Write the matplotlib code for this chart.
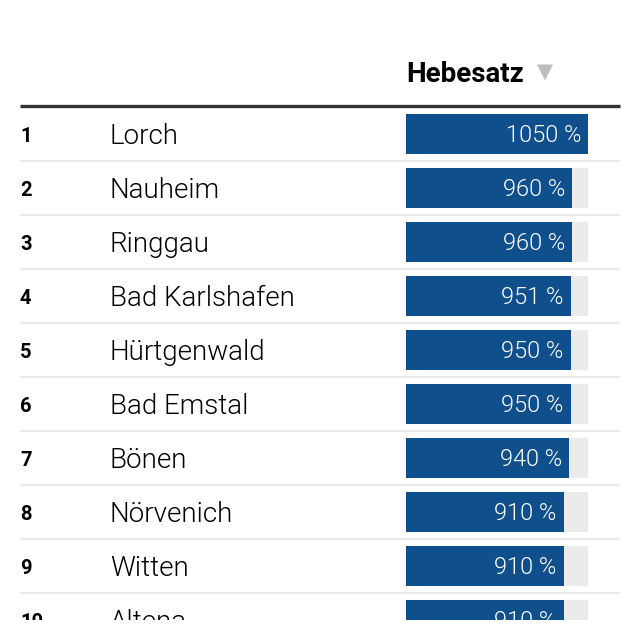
import matplotlib
matplotlib.use("Agg")
import matplotlib.pyplot as plt
from matplotlib.patches import Rectangle

# table data
ranks = [1, 2, 3, 4, 5, 6, 7, 8, 9, 10]
names = ["Lorch", "Nauheim", "Ringgau", "Bad Karlshafen", "Hürtgenwald",
         "Bad Emstal", "Bönen", "Nörvenich", "Witten", "Altena"]
hebesatz = [1050, 960, 960, 951, 950, 950, 940, 910, 910, 910]
header = "Hebesatz"

BLUE = "#0f4f8b"
TRACK = "#ebebeb"
SEP = "#e9e9e9"
FONT = "Roboto"

fig = plt.figure(figsize=(6.4, 6.4), dpi=100)
# layout axes in pixel units, visible part stops at y=620
ax = fig.add_axes([0, 20 / 640, 1, 620 / 640])
ax.set_xlim(0, 640)
ax.set_ylim(620, 0)
ax.axis("off")

row_h = 54
first_row = 134
bar_x0, bar_x1 = 406, 588
bar_h = 40
vmax = max(hebesatz)

# header
ax.text(bar_x0, 82, header, fontsize=20, fontweight="bold", family=FONT,
        ha="left", va="baseline", color="black")
ax.text(545, 72.5, "▼", fontsize=15, color="#bdbdbd", ha="center", va="center",
        family="DejaVu Sans")
ax.plot([20, 620], [105.5, 105.5], color="#333333", lw=2.4, solid_capstyle="butt")

for i, (r, n, v) in enumerate(zip(ranks, names, hebesatz)):
    yc = first_row + i * row_h
    ax.text(20, yc + 8, str(r), fontsize=14.5, fontweight="bold", family=FONT,
            ha="left", va="baseline", color="black", clip_on=True)
    ax.text(110, yc + 10, n, fontsize=20, fontweight=300, family=FONT,
            ha="left", va="baseline", color="black", clip_on=True)
    ax.add_patch(Rectangle((bar_x0, yc - bar_h / 2), bar_x1 - bar_x0, bar_h,
                           color=TRACK, lw=0))
    w = (bar_x1 - bar_x0) * v / vmax
    ax.add_patch(Rectangle((bar_x0, yc - bar_h / 2), w, bar_h, color=BLUE, lw=0))
    ax.text(bar_x0 + w - 7, yc + 8.5, f"{v} %", fontsize=17, fontweight=300,
            family=FONT, ha="right", va="baseline", color="white", clip_on=True)
    sep_y = yc + row_h / 2
    ax.plot([20, 620], [sep_y, sep_y], color=SEP, lw=1.5, solid_capstyle="butt")

fig.savefig("out.png", dpi=100, facecolor="white")
